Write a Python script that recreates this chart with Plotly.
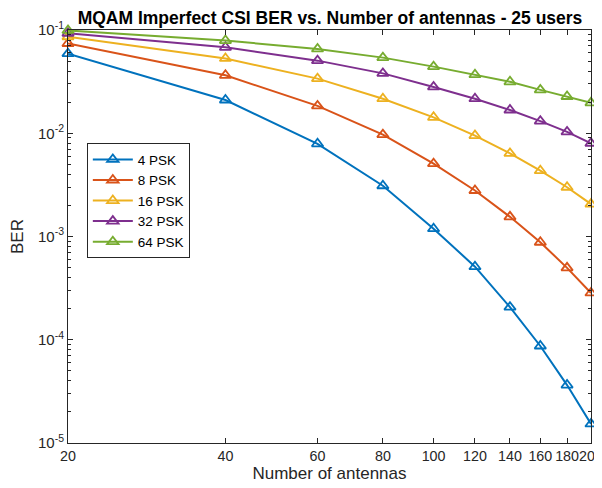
import math
import plotly.graph_objects as go

antennas = [20, 40, 60, 80, 100, 120, 140, 160, 180, 200]
ber_4psk = [0.059, 0.021, 0.0079, 0.0031, 0.00119, 0.00051, 0.000207, 0.000087, 0.0000364, 0.0000153]
ber_8psk = [0.074, 0.0364, 0.0184, 0.0097, 0.00508, 0.00279, 0.00155, 0.00088, 0.000497, 0.000284]
ber_16psk = [0.086, 0.053, 0.0338, 0.0216, 0.01427, 0.0095, 0.00638, 0.00434, 0.0030, 0.00206]
ber_32psk = [0.093, 0.068, 0.0505, 0.038, 0.0281, 0.0216, 0.0168, 0.0131, 0.0103, 0.0080]
ber_64psk = [0.099, 0.079, 0.0655, 0.054, 0.0442, 0.0369, 0.0315, 0.0263, 0.0227, 0.0197]

series_names = ["4 PSK", "8 PSK", "16 PSK", "32 PSK", "64 PSK"]
series_values = [ber_4psk, ber_8psk, ber_16psk, ber_32psk, ber_64psk]
colors = ["#0072BD", "#D95319", "#EDB120", "#7E2F8E", "#77AC30"]

x_ticks = antennas
y_tickvals = [1e-5, 1e-4, 1e-3, 1e-2, 1e-1]
y_ticktext = ["10<sup>-5</sup>", "10<sup>-4</sup>", "10<sup>-3</sup>", "10<sup>-2</sup>", "10<sup>-1</sup>"]

fig = go.Figure()
for name, vals, c in zip(series_names, series_values, colors):
    fig.add_trace(go.Scatter(
        x=antennas, y=vals, name=name, mode="lines+markers",
        line=dict(color=c, width=2),
        marker=dict(symbol="triangle-up-open", size=10, color=c, line=dict(width=1.8, color=c)),
        cliponaxis=False,
    ))

font_family = "Liberation Sans, Arial, sans-serif"
axis_color = "#262626"

# the page body has an 8px margin, so the figure is sized to fit the window
W, H = 594, 480
fig.update_layout(
    width=W, height=H,
    margin=dict(l=60, r=11, t=22, b=45),
    paper_bgcolor="white", plot_bgcolor="white",
    font=dict(family=font_family, size=15, color=axis_color),
    title=dict(text="<b>MQAM Imperfect CSI BER vs. Number of antennas - 25 users</b>",
               x=322 / W, xanchor="center", y=1 - 10 / H, yanchor="middle",
               font=dict(size=17.5, color="black")),
    showlegend=True,
    legend=dict(x=0.036, y=0.726, xanchor="left", yanchor="top",
                bgcolor="white", bordercolor=axis_color, borderwidth=1,
                font=dict(size=13.5, color="black"), tracegroupgap=0, itemwidth=40),
)

fig.update_xaxes(
    type="log", range=[math.log10(20) - 1e-5, math.log10(200) + 1e-5],
    tickmode="array", tickvals=x_ticks, ticktext=[str(v) for v in x_ticks],
    tickangle=0, ticklabeloverflow="allow", automargin=False,
    ticks="inside", ticklen=5, tickcolor=axis_color,
    showline=True, linecolor=axis_color, linewidth=1, mirror="ticks",
    showgrid=False, zeroline=False,
    title=dict(text="Number of antennas", font=dict(size=17), standoff=0),
    tickfont=dict(size=14.3),
)
fig.update_yaxes(
    type="log", range=[-5, -1],
    tickmode="array", tickvals=y_tickvals, ticktext=y_ticktext,
    ticklabeloverflow="allow", automargin=False,
    ticks="inside", ticklen=5, tickcolor=axis_color,
    minor=dict(ticks="inside", ticklen=3, tickcolor=axis_color,
               tickvals=[m * 10 ** e for e in range(-5, -1) for m in range(2, 10)]),
    showline=True, linecolor=axis_color, linewidth=1, mirror="ticks",
    showgrid=False, zeroline=False,
    title=dict(text="BER", font=dict(size=17), standoff=18),
    tickfont=dict(size=15),
)

fig.write_html("out.html")
